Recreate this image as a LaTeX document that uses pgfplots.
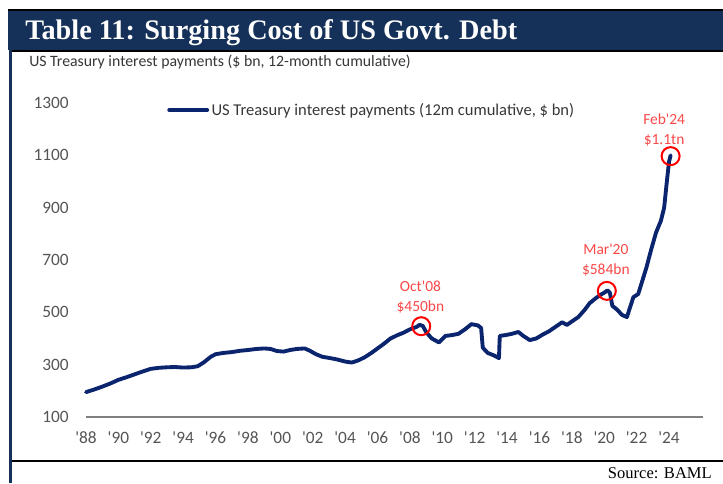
\documentclass[border=0pt]{standalone}
\usepackage{pgfplots}
\pgfplotsset{compat=1.18}
\usepackage{fontspec}
\setmainfont{Carlito}
\newfontfamily\cfont{Carlito}
\newfontfamily\titlefont{Liberation Serif}
\definecolor{bannernavy}{RGB}{22,49,89}
\definecolor{linenavy}{RGB}{10,36,110}
\definecolor{annred}{RGB}{250,72,72}
\definecolor{tickgray}{RGB}{85,85,85}
\definecolor{txtgray}{RGB}{55,55,55}
\definecolor{axgray}{RGB}{128,128,128}
\begin{document}
\begin{tikzpicture}[x=1pt,y=1pt]
\useasboundingbox (-64.5,-49.5) rectangle (477.75,312.75);
% banner
\fill[bannernavy] (-58.5,275.25) rectangle (477.75,305.25);
\draw[black,line width=0.8pt] (-58.5,305.25) -- (477.75,305.25);
\draw[black,line width=1pt] (-55.5,274.4) -- (477.75,274.4);
\fill[bannernavy] (-57.6,-49.5) rectangle (-55.5,275.25);
\draw[black,line width=1.5pt] (-55.5,-33) -- (477.75,-33);
\node[anchor=base west,inner sep=0pt,text=white,font=\titlefont\bfseries\fontsize{21.2}{24}\selectfont] at (-45.75,283.5) {Table 11: Surging Cost of US Govt. Debt};
\node[anchor=base west,inner sep=0pt,text=txtgray,font=\cfont\fontsize{11.85}{13}\selectfont] at (-42.75,263.25) {US Treasury interest payments (\$ bn, 12-month cumulative)};
\node[anchor=east,inner sep=0pt,text=black,font=\titlefont\fontsize{12.4}{14}\selectfont] at (469.5,-42) {Source: BAML};
\begin{axis}[
  at={(0,0)}, anchor=south west,
  scale only axis, width=462.75pt, height=235.5pt,
  xmin=1988, xmax=2026.1, ymin=100, ymax=1300,
  axis x line*=bottom, axis y line*=left,
  y axis line style={draw=none},
  x axis line style={draw=axgray,line width=1.5pt},
  xtick={1988,1990,...,2024},
  xticklabels={'88,'90,'92,'94,'96,'98,'00,'02,'04,'06,'08,'10,'12,'14,'16,'18,'20,'22,'24},
  ytick={100,300,...,1300},
  major tick length=0pt, tick style={draw=none},
  /pgf/number format/1000 sep={},
  /pgf/number format/assume math mode=true,
  ticklabel style={font=\cfont\fontsize{13}{14}\selectfont, text=tickgray},
  yticklabel style={inner sep=0pt, anchor=east, xshift=-12.75pt},
  xticklabel style={inner sep=0pt, anchor=north, yshift=-11pt},
  clip=false,
  legend style={draw=none, fill=none, at={(0.1313,0.9777)}, anchor=west, inner sep=0pt,
    font=\cfont\fontsize{12.4}{13}\selectfont, text=txtgray, nodes={inner sep=1.8pt}},
  legend image code/.code={\draw[#1] (0pt,0pt) -- (28.5pt,0pt);},
]
\addplot[linenavy, line width=2.9pt, line join=round, line cap=round] coordinates {
(1988.0,195)(1988.5,205)(1989.0,216)(1989.5,228)(1990.0,242)(1990.5,252)
(1991.0,263)(1991.5,274)(1992.0,284)(1992.5,288)(1993.0,290)(1993.5,291)
(1994.0,289)(1994.5,290)(1994.9,294)(1995.3,310)(1995.7,330)(1996.0,340)
(1996.5,345)(1997.0,348)(1997.5,353)(1998.0,356)(1998.5,360)(1999.0,362)
(1999.4,360)(1999.8,352)(2000.2,350)(2000.6,356)(2001.0,360)(2001.5,362)
(2001.8,354)(2002.2,340)(2002.6,330)(2003.0,326)(2003.5,320)(2004.0,312)
(2004.4,308)(2004.8,316)(2005.2,328)(2005.6,344)(2006.0,362)(2006.4,380)
(2006.8,400)(2007.2,412)(2007.6,422)(2008.0,435)(2008.4,444)(2008.6,452)
(2008.8,448)(2009.0,425)(2009.35,400)(2009.8,385)(2010.2,410)(2010.6,413)
(2011.0,418)(2011.4,435)(2011.8,455)(2012.2,450)(2012.4,440)(2012.5,365)
(2012.8,345)(2013.2,335)(2013.5,325)(2013.55,410)(2013.9,413)(2014.3,418)
(2014.7,425)(2015.0,410)(2015.4,394)(2015.8,400)(2016.2,415)(2016.6,428)
(2017.0,445)(2017.4,462)(2017.7,452)(2018.0,465)(2018.4,482)(2018.8,510)
(2019.1,535)(2019.5,555)(2019.8,568)(2020.0,575)(2020.2,584)(2020.35,575)
(2020.5,525)(2020.8,510)(2021.1,490)(2021.4,482)(2021.6,520)(2021.8,558)
(2022.1,570)(2022.3,610)(2022.6,670)(2022.9,740)(2023.2,805)(2023.5,850)
(2023.7,900)(2023.85,990)(2024.0,1075)(2024.1,1100)
};
\addlegendentry{US Treasury interest payments (12m cumulative, \$ bn)}
\addplot[only marks, mark=o, mark size=6.75pt, mark options={draw=red, line width=1.5pt}, forget plot]
  coordinates {(2008.7,447)(2020.16,582)(2024.1,1097)};
\node[font=\cfont\fontsize{11.6}{15}\selectfont, text=annred, align=center] at (axis cs:2008.65,559) {Oct'08\\\$450bn};
\node[font=\cfont\fontsize{11.6}{15}\selectfont, text=annred, align=center] at (axis cs:2020.1,700) {Mar'20\\\$584bn};
\node[font=\cfont\fontsize{11.6}{15}\selectfont, text=annred, align=center] at (axis cs:2023.7,1197) {Feb'24\\\$1.1tn};
\end{axis}
\end{tikzpicture}
\end{document}
